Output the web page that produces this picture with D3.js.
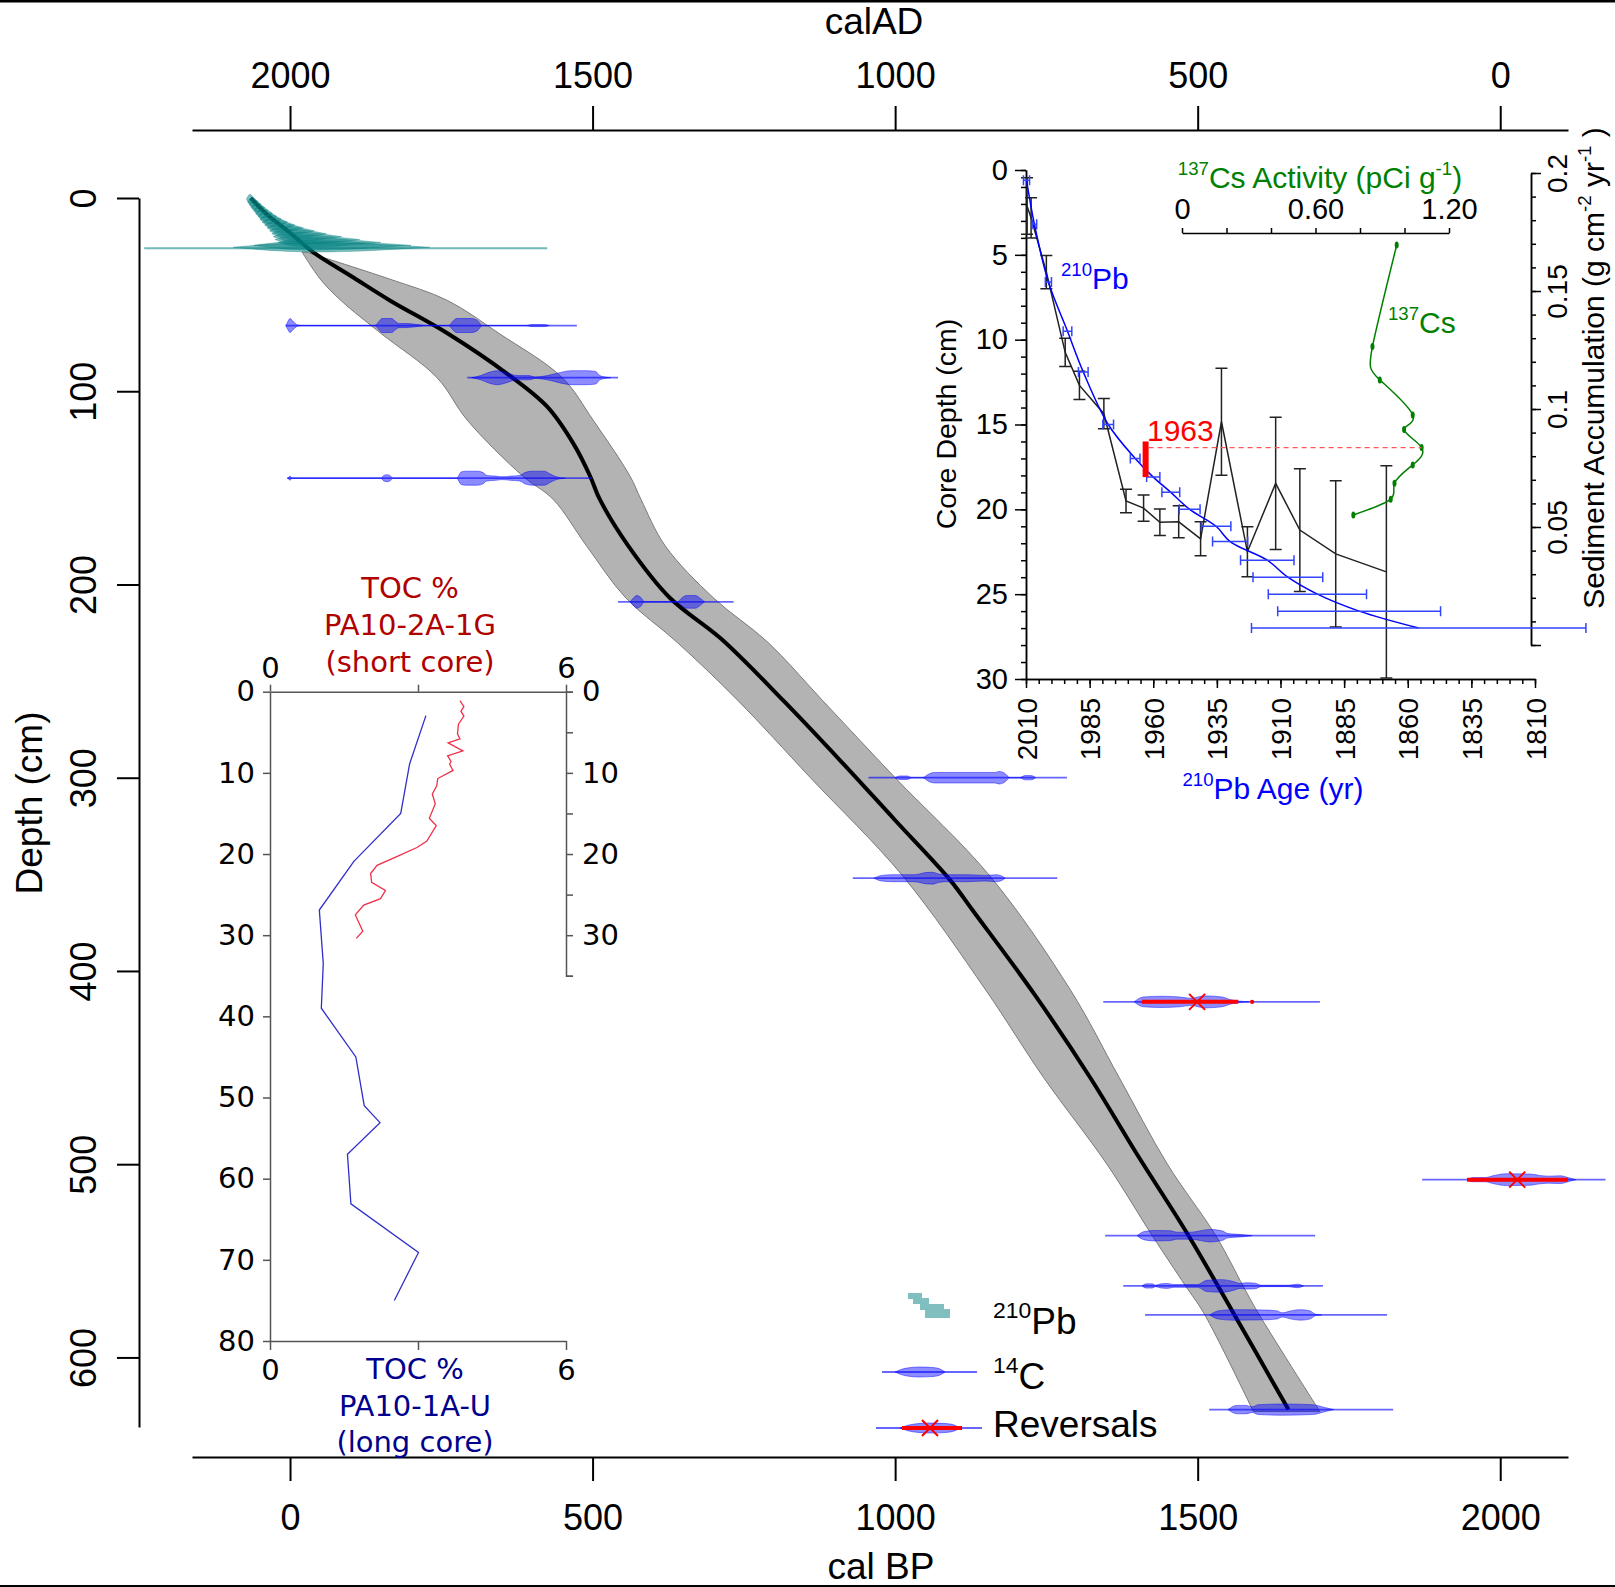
<!DOCTYPE html>
<html lang="en">
<head>
<meta charset="UTF-8">
<title>Age-depth model</title>
<style>
  body { margin: 0; background: #fff; }
  svg { display: block; }
</style>
</head>
<body>
<div id="content"></div>
<script src="https://d3js.org/d3.v7.min.js"></script>
<script>

// ---------- age-depth model (main panel) ----------
var modelDepth  = [0, 8, 18, 28, 41, 53, 70, 91, 108, 128, 144, 156, 180, 207, 228, 260, 291, 322, 353, 369, 412, 455, 495, 536, 577, 627];
var modelMedian = [-65, -40, 0, 38, 104, 165, 260, 359, 425, 470, 496, 512, 559, 628, 712, 815, 909, 1000, 1091, 1129, 1230, 1322, 1400, 1483, 1559, 1650];

var bandDepth = [28, 42, 53, 70, 93, 115, 144, 156, 180, 207, 230, 260, 300, 351, 410, 455, 500, 537, 563, 577, 628];
var bandYoung = [20, 50, 84, 150, 243, 293, 385, 435, 490, 555, 640, 740, 860, 1013, 1150, 1245, 1350, 1425, 1480, 1510, 1592];
var bandOld   = [27, 165, 260, 345, 450, 501, 562, 580, 620, 700, 790, 880, 1000, 1157, 1290, 1370, 1450, 1530, 1575, 1600, 1702];

// 210Pb dates: depth, younger limit, mode, older limit (cal BP)
var pbDepth = [0.5, 2, 3.5, 5, 6.5, 8, 9.5, 11, 12.5, 14, 15.5, 17, 18.5, 20, 21.5, 23, 24.5, 25.5];
var pbYoung = [-72, -70, -67, -64, -60, -57, -53, -50, -46, -42, -38, -34, -30, -28, -25, -20, -60, -94];
var pbMode  = [-66, -62, -58, -54, -50, -45, -40, -35, -29, -23, -17, -10, -3, 4, 12, 20, 28, 35];
var pbOld   = [-60, -54, -48, -42, -36, -29, -22, -14, -4, 8, 22, 40, 60, 85, 115, 150, 200, 231];
var pbTail  = [26, -241, 425];

// 14C dates: depth, full range, probability profile [cal BP, relative density]
var c14Depth = [66, 93, 145, 209, 300, 352, 416, 508, 537, 563, 578, 627];
var c14Min   = [-7, 293, -5, 542, 956, 930, 1344, 1871, 1347, 1377, 1413, 1519];
var c14Max   = [474, 542, 499, 733, 1284, 1268, 1702, 2174, 1694, 1707, 1813, 1823];
var c14Profile = [
  [[-7,0],[-4,0.5],[0,1],[5,0.6],[12,0.1],[20,0],[140,0],[148,0.7],[152,1],[168,1],[174,0.6],[180,0.3],[190,0.3],[200,0.25],[215,0.1],[225,0],[262,0],[270,0.7],[275,1],[300,1],[310,0.7],[318,0],[390,0],[400,0.15],[420,0.15],[428,0]],
  [[300,0],[315,0.3],[330,0.8],[342,1],[355,0.8],[369,0.4],[380,0.3],[395,0.3],[405,0.1],[425,0.3],[440,0.6],[455,0.9],[465,1],[490,1],[505,0.9],[512,0.3],[525,0.05],[530,0]],
  [[-3,0],[0,0.3],[3,0],[150,0],[155,0.4],[160,0.5],[165,0.4],[170,0],[275,0],[283,0.9],[290,1],[310,1],[319,0.8],[325,0.4],[340,0.3],[350,0.2],[365,0.3],[380,0.4],[388,0.8],[400,1],[420,1],[430,0.6],[440,0.2],[455,0]],
  [[562,0],[567,0.5],[573,0.9],[580,0.6],[586,0],[640,0],[648,0.6],[655,0.9],[670,0.9],[678,0.5],[685,0]],
  [[1000,0],[1008,0.25],[1020,0.25],[1028,0],[1045,0],[1055,0.5],[1065,0.75],[1140,0.75],[1165,0.75],[1172,0.9],[1180,0.7],[1190,0],[1205,0],[1215,0.3],[1225,0.3],[1232,0]],
  [[965,0],[978,0.4],[995,0.5],[1030,0.5],[1040,0.6],[1050,0.8],[1062,0.85],[1072,0.6],[1085,0.5],[1120,0.5],[1150,0.4],[1158,0.45],[1166,0.5],[1174,0.4],[1182,0]],
  [[1395,0],[1410,0.7],[1440,0.8],[1470,0.7],[1490,0.5],[1500,0.7],[1515,0.85],[1540,0.7],[1555,0.3],[1570,0.1],[1585,0]],
  [[1945,0],[1955,0.3],[1975,0.3],[1990,0.6],[2010,0.85],[2050,0.8],[2065,0.6],[2080,0.5],[2100,0.55],[2112,0.3],[2125,0]],
  [[1400,0],[1412,0.6],[1430,0.75],[1455,0.7],[1465,0.5],[1490,0.5],[1505,0.7],[1520,0.9],[1540,0.7],[1550,0.3],[1575,0.15],[1590,0]],
  [[1408,0],[1415,0.3],[1425,0.3],[1430,0.1],[1440,0.3],[1450,0.35],[1460,0.2],[1500,0.2],[1515,0.8],[1540,0.9],[1560,0.6],[1570,0.35],[1580,0.45],[1595,0.4],[1605,0.1],[1650,0.1],[1665,0.25],[1675,0]],
  [[1520,0],[1535,0.6],[1560,0.75],[1610,0.7],[1630,0.6],[1640,0.3],[1655,0.6],[1670,0.75],[1685,0.6],[1695,0.1],[1705,0]],
  [[1550,0],[1565,0.6],[1580,0.6],[1590,0.4],[1600,0.7],[1640,0.8],[1690,0.7],[1710,0.3],[1725,0]]
];
// reversals: index of date, red range, cross position, extra dot
var revIndex = [6, 7];
var revFrom  = [1408, 1945];
var revTo    = [1567, 2112];
var revCross = [1499, 2028];
var revDot   = [1590, null];

var bpTicks = [0, 500, 1000, 1500, 2000];
var adTicks = [2000, 1500, 1000, 500, 0];
var depthTicks = [0, 100, 200, 300, 400, 500, 600];

// ---------- inset: 210Pb / 137Cs ----------
var pbYear      = [2009.8, 2006.7, 2001.2, 1993.7, 1987.5, 1977.7, 1967.1, 1960.0, 1953.1, 1945.7, 1935.3, 1929.8, 1915.2, 1907.1, 1895.5, 1879.1, 1855.7];
var pbCoreDepth = [0.6, 3.2, 6.6, 9.5, 11.9, 15.0, 17.0, 18.1, 19.0, 20.0, 21.0, 21.9, 23.0, 24.0, 25.0, 26.0, 27.0];
var pbYearErr   = [1.2, 0.9, 1.2, 1.7, 1.9, 2.1, 1.9, 2.6, 3.5, 4.1, 5.8, 6.9, 10.5, 13.7, 19.3, 32, 65.7];

var accYear = [2009.6, 2008, 2002, 1994.6, 1989, 1979.4, 1970.7, 1963.8, 1957.4, 1950, 1941.4, 1933.2, 1923, 1911.9, 1902.4, 1888.3, 1868.4];
var accRate = [0.186, 0.181, 0.158, 0.124, 0.110, 0.098, 0.061, 0.058, 0.052, 0.0522, 0.045, 0.0946, 0.0395, 0.0685, 0.0487, 0.0386, 0.031];
var accErr  = [0.012, 0.0085, 0.007, 0.006, 0.006, 0.0064, 0.005, 0.0056, 0.0056, 0.0068, 0.0072, 0.0227, 0.0106, 0.028, 0.026, 0.031, 0.045];

var csDepth = [4.42, 10.41, 12.37, 14.44, 15.3, 16.36, 17.38, 18.46, 19.4, 20.33];
var csAct   = [0.965, 0.856, 0.889, 1.037, 0.998, 1.077, 1.037, 0.955, 0.938, 0.770];

var marker1963 = [1963, 16.0, 18.1];   // year, top depth, bottom depth
var yearTicks = [2010, 1985, 1960, 1935, 1910, 1885, 1860, 1835, 1810];
var accTicks = [0, 0.05, 0.1, 0.15, 0.2];
var csTicks = [0, 0.2, 0.4, 0.6, 0.8, 1.0, 1.2];

// ---------- inset: TOC ----------
var tocShortDepth = [1.1, 1.85, 2.4, 3.0, 4.0, 5.2, 5.8, 6.3, 7.3, 7.9, 8.6, 8.9, 9.7, 10.7, 11.6, 12.6, 13.8, 15.6, 16.5, 18.4, 19.2, 20.3, 21.4, 22.4, 23.5, 24.5, 25.5, 26.3, 27.5, 29.5, 30.4];
var tocShort      = [3.85, 3.93, 3.87, 3.93, 3.82, 3.80, 3.85, 3.61, 3.91, 3.60, 3.67, 3.64, 3.71, 3.40, 3.38, 3.29, 3.35, 3.23, 3.37, 3.18, 2.98, 2.58, 2.17, 2.04, 2.06, 2.34, 2.24, 1.90, 1.73, 1.88, 1.75];
var tocLongDepth  = [2.95, 8.9, 15.0, 20.9, 26.9, 33.5, 39.0, 45.0, 51.0, 53.1, 57.0, 63.1, 69.1, 75.0];
var tocLong       = [3.16, 2.83, 2.65, 1.70, 1.00, 1.08, 1.04, 1.74, 1.91, 2.23, 1.57, 1.64, 3.01, 2.52];

// ------------------------------------------------------------
var SANS = "'Liberation Sans', Arial, sans-serif";
var DEJAVU = "'DejaVu Sans', sans-serif";

var svg = d3.select("#content").append("svg")
    .attr("width", 1615)
    .attr("height", 1587)
    .style("background", "#fff");

// text with superscripts, pieces starting with ^ are raised
function rich(sel, pieces, size) {
    var shift = 0;
    pieces.forEach(function (p) {
        var sup = p.charAt(0) === "^";
        var ts = sel.append("tspan").text(sup ? p.slice(1) : p);
        var target = sup ? -size * 0.42 : 0;
        if (target !== shift) { ts.attr("dy", target - shift); shift = target; }
        if (sup) ts.attr("font-size", size * 0.62);
    });
    return sel;
}

function styleAxis(g, color, width, font, size) {
    g.attr("font-family", font).attr("font-size", size);
    g.selectAll("path, line").attr("stroke", color).attr("stroke-width", width);
    g.selectAll("text").attr("fill", "#000");
}

// frame lines of the figure
svg.append("rect").attr("x", 0).attr("y", 0).attr("width", 1615).attr("height", 2.5).attr("fill", "#000");
svg.append("rect").attr("x", 0).attr("y", 1585).attr("width", 1615).attr("height", 2).attr("fill", "#000");

// ---------- main panel ----------
var x = d3.scaleLinear().domain([-162, 2112]).range([192, 1568]);
var xAD = d3.scaleLinear().domain([2162, -112]).range([192, 1568]);
var y = d3.scaleLinear().domain([0, 636]).range([198, 1427]);

var gx = svg.append("g").attr("transform", "translate(0,1457)")
    .call(d3.axisBottom(x).tickValues(bpTicks).tickFormat(d3.format("d")).tickSize(24).tickSizeOuter(0).tickPadding(23));
styleAxis(gx, "#000", 2, SANS, 36);

var gxt = svg.append("g").attr("transform", "translate(0,130)")
    .call(d3.axisTop(xAD).tickValues(adTicks).tickFormat(d3.format("d")).tickSize(24).tickSizeOuter(0).tickPadding(18));
styleAxis(gxt, "#000", 2, SANS, 36);

var gy = svg.append("g").attr("transform", "translate(139,0)")
    .call(d3.axisLeft(y).tickValues(depthTicks).tickSize(22).tickSizeOuter(0));
styleAxis(gy, "#000", 2, SANS, 36);
gy.selectAll("text")
    .attr("x", 0).attr("dy", 0)
    .attr("text-anchor", "middle")
    .attr("transform", "translate(-43,0) rotate(-90)");

svg.append("text").attr("x", 881).attr("y", 1579)
    .attr("text-anchor", "middle").attr("font-family", SANS).attr("font-size", 37)
    .text("cal BP");
svg.append("text").attr("x", 874).attr("y", 34)
    .attr("text-anchor", "middle").attr("font-family", SANS).attr("font-size", 37)
    .text("calAD");
svg.append("text").attr("transform", "translate(42,803) rotate(-90)")
    .attr("text-anchor", "middle").attr("font-family", SANS).attr("font-size", 37)
    .text("Depth (cm)");

// uncertainty band + median
var idxBand = d3.range(bandDepth.length);
svg.append("path")
    .attr("d", d3.area()
        .y(function (i) { return y(bandDepth[i]); })
        .x0(function (i) { return x(bandYoung[i]); })
        .x1(function (i) { return x(bandOld[i]); })
        .curve(d3.curveCatmullRom)(idxBand))
    .attr("fill", "#b3b3b3")
    .attr("stroke", "#7a7a7a")
    .attr("stroke-width", 1);

svg.append("path")
    .attr("d", d3.line()
        .x(function (i) { return x(modelMedian[i]); })
        .y(function (i) { return y(modelDepth[i]); })
        .curve(d3.curveCatmullRom)(d3.range(modelDepth.length)))
    .attr("fill", "none")
    .attr("stroke", "#000")
    .attr("stroke-width", 4);

// 210Pb distributions
var hPb = d3.scaleLinear().domain([0, 1]).range([0, 7]);
svg.append("line")
    .attr("x1", x(pbTail[1])).attr("x2", x(pbTail[2]))
    .attr("y1", y(pbTail[0])).attr("y2", y(pbTail[0]))
    .attr("stroke", "teal").attr("stroke-opacity", 0.55).attr("stroke-width", 2);
pbDepth.forEach(function (d, i) {
    var dp = y(d);
    var pts = [[pbYoung[i], 0], [pbMode[i], 1], [pbOld[i], 0]];
    svg.append("path")
        .attr("d", d3.area()
            .x(function (p) { return x(p[0]); })
            .y0(function (p) { return dp - hPb(p[1]); })
            .y1(function (p) { return dp + hPb(p[1]); })
            .curve(d3.curveBasis)(pts))
        .attr("fill", "teal").attr("fill-opacity", 0.5)
        .attr("stroke", "teal").attr("stroke-opacity", 0.35).attr("stroke-width", 1);
});

// 14C distributions
var hC = d3.scaleLinear().domain([0, 1]).range([0, 7]);
c14Depth.forEach(function (d, i) {
    var dp = y(d);
    svg.append("line")
        .attr("x1", x(c14Min[i])).attr("x2", x(c14Max[i]))
        .attr("y1", dp).attr("y2", dp)
        .attr("stroke", "blue").attr("stroke-opacity", 0.6).attr("stroke-width", 1.8);
    svg.append("path")
        .attr("d", d3.area()
            .x(function (p) { return x(p[0]); })
            .y0(function (p) { return dp - hC(p[1]); })
            .y1(function (p) { return dp + hC(p[1]); })
            .curve(d3.curveMonotoneX)(c14Profile[i]))
        .attr("fill", "blue").attr("fill-opacity", 0.45)
        .attr("stroke", "blue").attr("stroke-opacity", 0.45).attr("stroke-width", 1);
    var r = revIndex.indexOf(i);
    if (r >= 0) {
        svg.append("line")
            .attr("x1", x(revFrom[r])).attr("x2", x(revTo[r]))
            .attr("y1", dp).attr("y2", dp)
            .attr("stroke", "red").attr("stroke-width", 4);
        if (revDot[r] !== null) {
            svg.append("circle").attr("cx", x(revDot[r])).attr("cy", dp).attr("r", 2.2).attr("fill", "red");
        }
        var cx = x(revCross[r]);
        svg.append("path")
            .attr("d", "M" + (cx - 8) + "," + (dp - 8) + "L" + (cx + 8) + "," + (dp + 8) +
                "M" + (cx - 8) + "," + (dp + 8) + "L" + (cx + 8) + "," + (dp - 8))
            .attr("stroke", "red").attr("stroke-width", 2);
    }
});

// legend
var leg = svg.append("g");
[[908, 1293, 14, 6], [913, 1298, 16, 6], [920, 1304, 24, 6], [925, 1309, 25, 9]].forEach(function (b) {
    leg.append("rect").attr("x", b[0]).attr("y", b[1]).attr("width", b[2]).attr("height", b[3]).attr("fill", "#7fbfbf");
});
var legBlob = d3.area()
    .x(function (p) { return p[0]; })
    .y0(function (p) { return -p[1]; })
    .y1(function (p) { return p[1]; })
    .curve(d3.curveMonotoneX);
var blobShape = [[0, 0], [6, 2.5], [12, 4], [24, 5], [38, 4.5], [45, 3], [50, 0]];
leg.append("line").attr("x1", 882).attr("x2", 977).attr("y1", 1372).attr("y2", 1372)
    .attr("stroke", "blue").attr("stroke-opacity", 0.6).attr("stroke-width", 1.8);
leg.append("path").attr("transform", "translate(895,1372)").attr("d", legBlob(blobShape))
    .attr("fill", "blue").attr("fill-opacity", 0.45).attr("stroke", "blue").attr("stroke-opacity", 0.45);
leg.append("line").attr("x1", 876).attr("x2", 982).attr("y1", 1428).attr("y2", 1428)
    .attr("stroke", "blue").attr("stroke-opacity", 0.6).attr("stroke-width", 1.8);
leg.append("path").attr("transform", "translate(900,1428) scale(1.2,1)").attr("d", legBlob(blobShape))
    .attr("fill", "blue").attr("fill-opacity", 0.45).attr("stroke", "blue").attr("stroke-opacity", 0.45);
leg.append("line").attr("x1", 902).attr("x2", 962).attr("y1", 1428).attr("y2", 1428)
    .attr("stroke", "red").attr("stroke-width", 4);
leg.append("path").attr("d", "M922,1420L938,1436M922,1436L938,1420").attr("stroke", "red").attr("stroke-width", 2);

[["^210", "Pb", 1334], ["^14", "C", 1389], ["Reversals", null, 1437]].forEach(function (l) {
    var t = leg.append("text").attr("x", 993).attr("y", l[2]).attr("font-family", SANS).attr("font-size", 37);
    rich(t, l[1] ? [l[0], l[1]] : [l[0]], 37);
});

// ---------- inset: 210Pb / 137Cs ----------
var iy = d3.scaleLinear().domain([0, 30]).range([170, 679]);
var ix = d3.scaleLinear().domain([2010, 1810]).range([1026, 1535]);
var iAcc = d3.scaleLinear().domain([0, 0.2]).range([645, 173]);
var iCs = d3.scaleLinear().domain([0, 1.2]).range([1182, 1449]);
var ins = svg.append("g");

var g1 = ins.append("g").attr("transform", "translate(1026,0)")
    .call(d3.axisLeft(iy).tickValues(d3.range(0, 31)).tickSize(5).tickSizeOuter(0).tickFormat(""));
styleAxis(g1, "#000", 1.5, SANS, 29);
var g2 = ins.append("g").attr("transform", "translate(1026,0)")
    .call(d3.axisLeft(iy).tickValues(d3.range(0, 31, 5)).tickSize(11).tickSizeOuter(0).tickPadding(7));
styleAxis(g2, "#000", 1.5, SANS, 29);

var g3 = ins.append("g").attr("transform", "translate(0,679)")
    .call(d3.axisBottom(ix).tickValues(d3.range(2010, 1809, -5)).tickSize(5).tickSizeOuter(0).tickFormat(""));
styleAxis(g3, "#000", 1.5, SANS, 28);
var g4 = ins.append("g").attr("transform", "translate(0,679)")
    .call(d3.axisBottom(ix).tickValues(yearTicks).tickSize(9).tickSizeOuter(0).tickFormat(d3.format("d")));
styleAxis(g4, "#000", 1.5, SANS, 28);
g4.selectAll("text")
    .attr("x", 0).attr("y", 0).attr("dy", "0.36em")
    .attr("text-anchor", "end")
    .attr("transform", "translate(0,19) rotate(-90)");

var g5 = ins.append("g").attr("transform", "translate(1531,0)")
    .call(d3.axisRight(iAcc).tickValues(d3.range(0, 0.2001, 0.01)).tickSize(5).tickSizeOuter(0).tickFormat(""));
styleAxis(g5, "#000", 1.5, SANS, 28);
var g6 = ins.append("g").attr("transform", "translate(1531,0)")
    .call(d3.axisRight(iAcc).tickValues(accTicks).tickSize(10).tickSizeOuter(0)
        .tickFormat(function (d) { return d === 0 ? "" : d3.format("~g")(d); }));
styleAxis(g6, "#000", 1.5, SANS, 28);
g6.selectAll("text")
    .attr("x", 0).attr("y", 0).attr("dy", "0.36em")
    .attr("text-anchor", "middle")
    .attr("transform", "translate(26,0) rotate(-90)");

var g7 = ins.append("g").attr("transform", "translate(0,233)")
    .call(d3.axisTop(iCs).tickValues(csTicks).tickSize(5).tickSizeOuter(0).tickPadding(9)
        .tickFormat(function (d) { return d === 0 ? "0" : (Math.abs(d - 0.6) < 1e-6 || Math.abs(d - 1.2) < 1e-6) ? d3.format(".2f")(d) : ""; }));
styleAxis(g7, "#000", 1.5, SANS, 29);

// titles
ins.append("text").attr("transform", "translate(956,424) rotate(-90)")
    .attr("text-anchor", "middle").attr("font-family", SANS).attr("font-size", 28.5)
    .text("Core Depth (cm)");
rich(ins.append("text").attr("transform", "translate(1604,368) rotate(-90)")
    .attr("text-anchor", "middle").attr("font-family", SANS).attr("font-size", 30),
    ["Sediment Accumulation (g cm", "^-2", " yr", "^-1", " )"], 30);
rich(ins.append("text").attr("x", 1273).attr("y", 799)
    .attr("text-anchor", "middle").attr("font-family", SANS).attr("font-size", 30).attr("fill", "blue"),
    ["^210", "Pb Age (yr)"], 30);
rich(ins.append("text").attr("x", 1320).attr("y", 188)
    .attr("text-anchor", "middle").attr("font-family", SANS).attr("font-size", 30).attr("fill", "green"),
    ["^137", "Cs Activity (pCi g", "^-1", ")"], 30);
rich(ins.append("text").attr("x", 1061).attr("y", 289)
    .attr("font-family", SANS).attr("font-size", 30).attr("fill", "blue"),
    ["^210", "Pb"], 30);
rich(ins.append("text").attr("x", 1388).attr("y", 333)
    .attr("font-family", SANS).attr("font-size", 30).attr("fill", "green"),
    ["^137", "Cs"], 30);

// clip for the inset plot area
svg.append("clipPath").attr("id", "insclip")
    .append("rect").attr("x", 1000).attr("y", 170).attr("width", 600).attr("height", 509);

// sediment accumulation (black) with vertical error bars
var accG = ins.append("g").attr("clip-path", "url(#insclip)");
accG.append("path")
    .attr("d", d3.line()
        .x(function (i) { return ix(accYear[i]); })
        .y(function (i) { return iAcc(accRate[i]); })(d3.range(accYear.length)))
    .attr("fill", "none").attr("stroke", "#222").attr("stroke-width", 1.5);
accYear.forEach(function (yr, i) {
    var cx = ix(yr), y0 = iAcc(accRate[i] + accErr[i]), y1 = iAcc(accRate[i] - accErr[i]);
    accG.append("path")
        .attr("d", "M" + cx + "," + y0 + "V" + y1 + "M" + (cx - 6) + "," + y0 + "H" + (cx + 6) + "M" + (cx - 6) + "," + y1 + "H" + (cx + 6))
        .attr("fill", "none").attr("stroke", "#222").attr("stroke-width", 1.5);
});

// 210Pb age-depth (blue) with horizontal error bars
ins.append("path")
    .attr("d", d3.line()
        .x(function (i) { return ix(pbYear[i]); })
        .y(function (i) { return iy(pbCoreDepth[i]); })
        .curve(d3.curveCatmullRom)(d3.range(pbYear.length)))
    .attr("fill", "none").attr("stroke", "blue").attr("stroke-width", 1.5);
pbYear.forEach(function (yr, i) {
    var cy = iy(pbCoreDepth[i]), x0 = ix(yr + pbYearErr[i]), x1 = ix(yr - pbYearErr[i]);
    ins.append("path")
        .attr("d", "M" + x0 + "," + cy + "H" + x1 + "M" + x0 + "," + (cy - 5) + "V" + (cy + 5) + "M" + x1 + "," + (cy - 5) + "V" + (cy + 5))
        .attr("fill", "none").attr("stroke", "#3344ff").attr("stroke-width", 1.5);
});

// 137Cs profile
ins.append("path")
    .attr("d", d3.line()
        .x(function (i) { return iCs(csAct[i]); })
        .y(function (i) { return iy(csDepth[i]); })
        .curve(d3.curveNatural)(d3.range(csDepth.length)))
    .attr("fill", "none").attr("stroke", "green").attr("stroke-width", 1.5);
csDepth.forEach(function (d, i) {
    ins.append("ellipse").attr("cx", iCs(csAct[i])).attr("cy", iy(d)).attr("rx", 2).attr("ry", 3.5).attr("fill", "green");
});

// 1963 marker
var peak = csAct.indexOf(d3.max(csAct));
ins.append("line")
    .attr("x1", ix(marker1963[0]) + 3).attr("x2", iCs(csAct[peak]))
    .attr("y1", iy(csDepth[peak])).attr("y2", iy(csDepth[peak]))
    .attr("stroke", "#ff5555").attr("stroke-width", 1.3).attr("stroke-dasharray", "5,4");
ins.append("rect")
    .attr("x", ix(marker1963[0]) - 3).attr("y", iy(marker1963[1]))
    .attr("width", 6).attr("height", iy(marker1963[2]) - iy(marker1963[1]))
    .attr("fill", "red");
ins.append("text").attr("x", 1147).attr("y", 441)
    .attr("font-family", SANS).attr("font-size", 30).attr("fill", "red")
    .text("1963");

// ---------- inset: TOC ----------
var tx = d3.scaleLinear().domain([0, 6]).range([270, 566]);
var ty = d3.scaleLinear().domain([0, 80]).range([691.7, 1341]);
var ty2 = d3.scaleLinear().domain([0, 35]).range([691.7, ty(35)]);
var toc = svg.append("g");

var t1 = toc.append("g").attr("transform", "translate(0,691.7)")
    .call(d3.axisTop(tx).tickValues([0, 3, 6]).tickSize(7).tickSizeOuter(0).tickPadding(7)
        .tickFormat(function (d) { return d === 3 ? "" : d; }));
styleAxis(t1, "#555", 1.5, DEJAVU, 29);
var t2 = toc.append("g").attr("transform", "translate(0,1341)")
    .call(d3.axisBottom(tx).tickValues([0, 3, 6]).tickSize(9).tickSizeOuter(0).tickPadding(9)
        .tickFormat(function (d) { return d === 3 ? "" : d; }));
styleAxis(t2, "#555", 1.5, DEJAVU, 29);
var t3 = toc.append("g").attr("transform", "translate(270,0)")
    .call(d3.axisLeft(ty).tickValues(d3.range(0, 81, 10)).tickSize(7).tickSizeOuter(0).tickPadding(8));
styleAxis(t3, "#555", 1.5, DEJAVU, 29);
var t4 = toc.append("g").attr("transform", "translate(566,0)")
    .call(d3.axisRight(ty2).tickValues(d3.range(0, 36, 5)).tickSize(7).tickSizeOuter(7).tickPadding(9)
        .tickFormat(function (d) { return d % 10 === 0 ? d : ""; }));
styleAxis(t4, "#555", 1.5, DEJAVU, 29);

toc.append("path")
    .attr("d", d3.line()
        .x(function (i) { return tx(tocLong[i]); })
        .y(function (i) { return ty(tocLongDepth[i]); })(d3.range(tocLong.length)))
    .attr("fill", "none").attr("stroke", "#3030c8").attr("stroke-width", 1.3);
toc.append("path")
    .attr("d", d3.line()
        .x(function (i) { return tx(tocShort[i]); })
        .y(function (i) { return ty(tocShortDepth[i]); })(d3.range(tocShort.length)))
    .attr("fill", "none").attr("stroke", "#f0304a").attr("stroke-width", 1.3);

[["TOC %", 598], ["PA10-2A-1G", 635], ["(short core)", 672]].forEach(function (l) {
    toc.append("text").attr("x", 410).attr("y", l[1])
        .attr("text-anchor", "middle").attr("font-family", DEJAVU).attr("font-size", 29)
        .attr("fill", "#b00000").text(l[0]);
});
[["TOC %", 1379], ["PA10-1A-U", 1416], ["(long core)", 1452]].forEach(function (l) {
    toc.append("text").attr("x", 415).attr("y", l[1])
        .attr("text-anchor", "middle").attr("font-family", DEJAVU).attr("font-size", 29)
        .attr("fill", "#00008c").text(l[0]);
});

</script>
</body>
</html>
